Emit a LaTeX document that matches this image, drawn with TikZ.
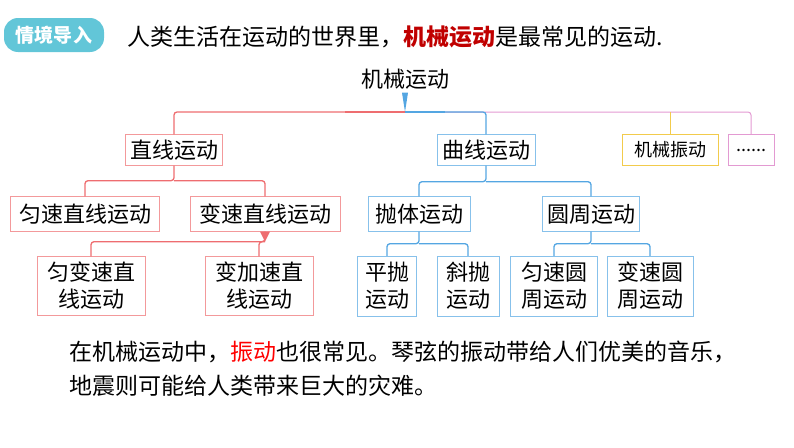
\documentclass[tikz,border=0pt]{standalone}
\usepackage{fontspec}
\setmainfont{Noto Sans CJK SC}
\usetikzlibrary{positioning}
\definecolor{tagcyan}{HTML}{62C6D8}
\definecolor{redline}{HTML}{EE6D70}
\definecolor{blueline}{HTML}{54A6E2}
\definecolor{pinkline}{HTML}{E39AD2}
\definecolor{yellowline}{HTML}{F2CB4C}
\definecolor{redtext}{HTML}{C00000}
\tikzset{
  rbox/.style={draw=redline!70,fill=white,inner sep=0pt,font=\fontsize{22}{27}\selectfont,align=center},
  bbox/.style={draw=blueline!70,fill=white,inner sep=0pt,font=\fontsize{22}{27}\selectfont,align=center},
  rwire/.style={draw=redline,line width=1.3pt,rounded corners=3pt},
  bwire/.style={draw=blueline,line width=1.3pt,rounded corners=3pt}
}
\begin{document}
\begin{tikzpicture}[x=1pt,y=-1pt]
  \useasboundingbox (0,0) rectangle (794,447);
  % heading
  \node[fill=tagcyan,rounded corners=14pt,text=white,font=\fontsize{19}{22}\selectfont\bfseries,
    minimum width=100pt,minimum height=34pt] (tag) at (54,35) {情境导入};
  \node[anchor=west,font=\fontsize{23}{27}\selectfont] (title) at (124,37)
    {人类生活在运动的世界里，\textcolor{redtext}{\bfseries 机械运动}是最常见的运动.};
  % tree
  \node[font=\fontsize{22}{26}\selectfont] (root) at (405,79) {机械运动};
  \coordinate (hub) at (405,112);
  \node[rbox,minimum width=97pt,minimum height=31pt] (zx) at (174,150) {直线运动};
  \node[bbox,minimum width=98pt,minimum height=31pt] (qx) at (486,150) {曲线运动};
  \node[draw=yellowline,inner sep=0pt,minimum width=96pt,minimum height=31pt,
    font=\fontsize{18}{22}\selectfont] (zd) at (670,150) {机械振动};
  \node[draw=pinkline,inner sep=0pt,minimum width=46pt,minimum height=31pt,
    font=\fontsize{18}{22}\selectfont] (more) at (751,150) {......};
  \node[rbox,minimum width=149pt,minimum height=35pt] (yszx) at (85,214) {匀速直线运动};
  \node[rbox,minimum width=150pt,minimum height=35pt] (bszx) at (265,214) {变速直线运动};
  \node[bbox,minimum width=102pt,minimum height=35pt] (pt) at (419,214) {抛体运动};
  \node[bbox,minimum width=97pt,minimum height=35pt] (yz) at (591,214) {圆周运动};
  \node[rbox,minimum width=108pt,minimum height=59pt] (ybs) at (91,286) {匀变速直\\线运动};
  \node[rbox,minimum width=108pt,minimum height=59pt] (bjs) at (259,286) {变加速直\\线运动};
  \node[bbox,minimum width=59pt,minimum height=60pt] (pp) at (387,286) {平抛\\运动};
  \node[bbox,minimum width=62pt,minimum height=60pt] (xp) at (468,286) {斜抛\\运动};
  \node[bbox,minimum width=87pt,minimum height=60pt] (ysy) at (554,286) {匀速圆\\周运动};
  \node[bbox,minimum width=86pt,minimum height=60pt] (bsy) at (650,286) {变速圆\\周运动};
  % connectors
  \draw[pinkline,line width=1pt,rounded corners=3pt] (hub) -| (more.north);
  \draw[yellowline,line width=1pt] (zd.north) -- (zd.north |- hub);
  \draw[bwire] (hub) -| (qx.north);
  \draw[rwire] (hub) -| (zx.north);
  \fill[blueline] (root.south) ++(-3,0) -- ++(6,0) -- (hub) -- cycle;
  \draw[redline,line width=2.2pt] (hub) -- ++(-60,0);
  \draw[blueline,line width=2.2pt] (hub) -- ++(40,0);
  \draw[rwire] (zx.south) -- ++(0,15) coordinate (h1) -| (yszx.north);
  \draw[rwire] (h1) -| (bszx.north);
  \draw[bwire] (qx.south) -- ++(0,16) coordinate (h2) -| (pt.north);
  \draw[bwire] (h2) -| (yz.north);
  \draw[rwire] (bszx.south) -- ++(0,10) coordinate (h3) -| (ybs.north);
  \draw[rwire] (h3) -| (bjs.north);
  \fill[redline] (bszx.south) ++(-5,0) -- ++(10,0) -- ++(-5,10) -- cycle;
  \draw[bwire] (pt.south) -- ++(0,12) coordinate (h4) -| (pp.north);
  \draw[bwire] (h4) -| (xp.north);
  \draw[bwire] (yz.south) -- ++(0,12) coordinate (h5) -| (ysy.north);
  \draw[bwire] (h5) -| (bsy.north);
  % closing text
  \node[anchor=west,font=\fontsize{23}{27}\selectfont] (line1) at (66,352)
    {在机械运动中，\textcolor{red}{振动}也很常见。琴弦的振动带给人们优美的音乐，};
  \node[anchor=west,font=\fontsize{23}{27}\selectfont] (line2) at (66,386)
    {地震则可能给人类带来巨大的灾难。};
\end{tikzpicture}
\end{document}
